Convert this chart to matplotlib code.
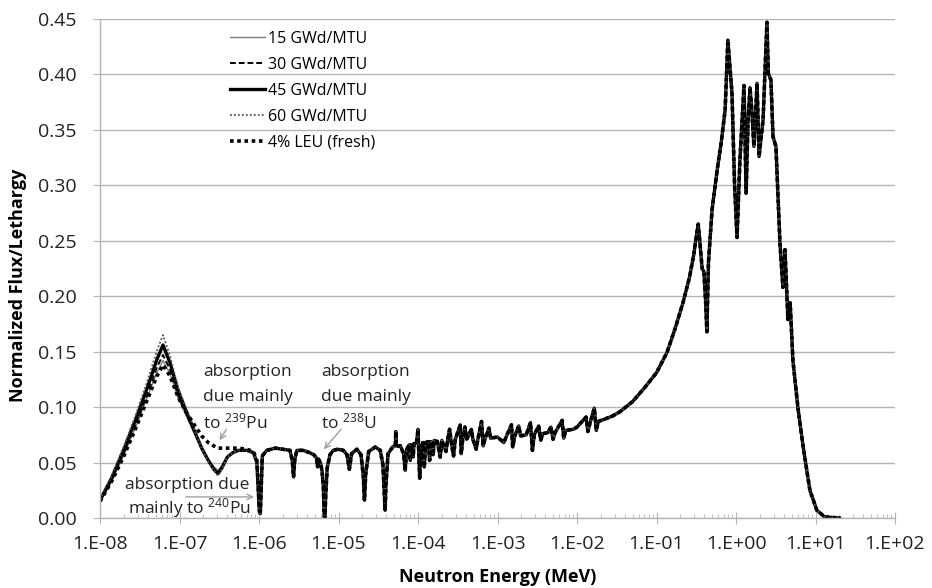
import math
import matplotlib
matplotlib.use('Agg')
from matplotlib import pyplot as plt
from matplotlib.ticker import FixedLocator, FuncFormatter, NullFormatter

# thermal region (differs between burnups), energy in MeV
E_th = [1.0e-8, 1.4e-8, 2.0e-8, 2.85e-8, 4.0e-8, 5.2e-8, 6.2e-8, 7.6e-8, 9.6e-8, 1.25e-7,
        1.57e-7, 1.9e-7, 2.3e-7, 2.7e-7, 3.05e-7, 3.4e-7, 4.0e-7, 4.7e-7, 5.5e-7, 7.0e-7,
        8.5e-7, 9.4e-7, 9.8e-7, 1.01e-6, 1.04e-6, 1.07e-6]
F_15 = [0.015, 0.033, 0.057, 0.083, 0.110, 0.131, 0.142, 0.130, 0.108, 0.090, 0.075, 0.063, 0.053,
        0.046, 0.043, 0.047, 0.055, 0.059, 0.061, 0.061, 0.059, 0.050, 0.026, 0.006, 0.005, 0.031]
F_30 = [0.015, 0.034, 0.059, 0.086, 0.113, 0.136, 0.147, 0.134, 0.111, 0.092, 0.076, 0.063, 0.052,
        0.045, 0.041, 0.046, 0.055, 0.059, 0.061, 0.061, 0.059, 0.050, 0.025, 0.005, 0.004, 0.030]
F_45 = [0.016, 0.036, 0.062, 0.090, 0.119, 0.143, 0.156, 0.140, 0.115, 0.094, 0.077, 0.063, 0.052,
        0.044, 0.040, 0.045, 0.055, 0.059, 0.061, 0.061, 0.059, 0.050, 0.025, 0.005, 0.004, 0.030]
F_60 = [0.017, 0.038, 0.065, 0.094, 0.125, 0.151, 0.165, 0.146, 0.118, 0.096, 0.078, 0.063, 0.051,
        0.043, 0.038, 0.044, 0.055, 0.059, 0.061, 0.061, 0.059, 0.050, 0.024, 0.004, 0.003, 0.030]
F_fresh = [0.015, 0.033, 0.056, 0.082, 0.108, 0.128, 0.138, 0.128, 0.109, 0.094, 0.083, 0.074, 0.068,
           0.065, 0.063, 0.063, 0.063, 0.063, 0.063, 0.062, 0.060, 0.052, 0.028, 0.008, 0.006, 0.032]

# epithermal + fast region (same for all cases)
E_ep = [1.10e-6, 1.25e-6, 1.6e-6, 2.0e-6, 2.45e-6, 2.62e-6, 2.72e-6, 2.82e-6, 3.0e-6, 3.6e-6,
        4.3e-6, 4.9e-6, 5.3e-6, 5.45e-6, 5.6e-6, 5.9e-6, 6.2e-6, 6.45e-6, 6.6e-6, 6.75e-6,
        6.9e-6, 7.2e-6, 7.8e-6, 8.6e-6, 9.8e-6, 1.15e-5, 1.28e-5, 1.37e-5, 1.46e-5, 1.7e-5,
        1.92e-5, 2.05e-5, 2.12e-5, 2.2e-5, 2.4e-5, 2.9e-5, 3.35e-5, 3.62e-5, 3.78e-5, 3.86e-5,
        3.95e-5, 4.2e-5, 4.8e-5, 5.2e-5, 5.25e-5, 5.3e-5, 6.0e-5, 6.6e-5, 6.9e-5, 7.2e-5,
        7.8e-5, 8.0e-5, 8.2e-5, 8.7e-5, 8.9e-5, 9.6e-5, 1.0e-4, 1.02e-4, 1.05e-4, 1.08e-4,
        1.15e-4, 1.2e-4, 1.25e-4, 1.35e-4, 1.4e-4, 1.45e-4, 1.55e-4, 1.6e-4, 1.75e-4, 1.9e-4,
        2.0e-4, 2.25e-4, 2.35e-4, 2.5e-4, 2.6e-4, 2.8e-4, 2.95e-4, 3.4e-4, 3.5e-4, 3.65e-4,
        3.9e-4, 4.1e-4, 4.7e-4, 4.9e-4, 5.4e-4, 5.7e-4, 6.3e-4, 6.6e-4, 7.0e-4, 7.8e-4,
        8.2e-4, 1.0e-3, 1.2e-3, 1.3e-3, 1.5e-3, 1.55e-3, 1.65e-3, 1.85e-3, 1.95e-3, 2.3e-3,
        2.6e-3, 2.75e-3, 2.9e-3, 3.3e-3, 3.5e-3, 3.7e-3, 4.3e-3, 4.7e-3, 5.0e-3, 5.3e-3,
        6.5e-3, 6.8e-3, 7.2e-3, 9.0e-3, 1.0e-2, 1.3e-2, 1.37e-2, 1.45e-2, 1.65e-2, 1.75e-2,
        1.85e-2, 2.2e-2, 2.8e-2, 3.5e-2, 5.0e-2, 7.0e-2, 0.10, 0.135, 0.17, 0.215,
        0.26, 0.295, 0.32, 0.335, 0.35, 0.375, 0.395, 0.415, 0.43, 0.45,
        0.50, 0.58, 0.65, 0.73, 0.79, 0.89, 0.96, 1.03, 1.12, 1.26,
        1.34, 1.42, 1.50, 1.58, 1.68, 1.84, 1.95, 2.19, 2.45, 2.55,
        2.75, 2.92, 3.18, 3.57, 3.89, 4.13, 4.5, 4.8, 5.2, 6.0,
        7.0, 8.5, 10.4, 13.0, 20.0]
F_ep = [0.056, 0.061, 0.063, 0.062, 0.061, 0.052, 0.037, 0.053, 0.061, 0.061,
        0.059, 0.057, 0.054, 0.046, 0.053, 0.050, 0.043, 0.028, 0.002, 0.000,
        0.020, 0.045, 0.057, 0.061, 0.062, 0.061, 0.057, 0.044, 0.058, 0.062,
        0.057, 0.038, 0.016, 0.040, 0.060, 0.064, 0.061, 0.048, 0.020, 0.007,
        0.030, 0.058, 0.064, 0.066, 0.078, 0.065, 0.065, 0.058, 0.043, 0.062,
        0.066, 0.052, 0.066, 0.055, 0.067, 0.068, 0.080, 0.060, 0.036, 0.062,
        0.068, 0.046, 0.068, 0.069, 0.052, 0.069, 0.057, 0.070, 0.069, 0.055,
        0.070, 0.060, 0.070, 0.080, 0.070, 0.056, 0.071, 0.084, 0.058, 0.071,
        0.082, 0.071, 0.080, 0.071, 0.062, 0.072, 0.087, 0.065, 0.072, 0.081,
        0.072, 0.073, 0.068, 0.074, 0.084, 0.064, 0.074, 0.083, 0.074, 0.075,
        0.086, 0.061, 0.075, 0.083, 0.070, 0.076, 0.077, 0.082, 0.071, 0.077,
        0.088, 0.072, 0.079, 0.080, 0.082, 0.091, 0.078, 0.085, 0.099, 0.079,
        0.087, 0.089, 0.092, 0.096, 0.105, 0.117, 0.131, 0.149, 0.170, 0.194,
        0.217, 0.238, 0.256, 0.265, 0.250, 0.225, 0.222, 0.195, 0.168, 0.230,
        0.278, 0.314, 0.338, 0.368, 0.431, 0.383, 0.300, 0.253, 0.323, 0.390,
        0.293, 0.360, 0.388, 0.368, 0.335, 0.392, 0.326, 0.359, 0.447, 0.401,
        0.395, 0.344, 0.335, 0.248, 0.208, 0.242, 0.179, 0.194, 0.142, 0.100,
        0.064, 0.025, 0.007, 0.001, 0.000]

labels = ['15 GWd/MTU', '30 GWd/MTU', '45 GWd/MTU', '60 GWd/MTU', '4% LEU (fresh)']
thermal = [F_15, F_30, F_45, F_60, F_fresh]

x_ticks = [1e-8, 1e-7, 1e-6, 1e-5, 1e-4, 1e-3, 1e-2, 1e-1, 1e0, 1e1, 1e2]
y_ticks = [0.0, 0.05, 0.10, 0.15, 0.20, 0.25, 0.30, 0.35, 0.40, 0.45]

plt.rcParams['font.family'] = ['Open Sans', 'DejaVu Sans']
plt.rcParams['mathtext.default'] = 'regular'

fig = plt.figure(figsize=(9.32, 5.88), dpi=100)
ax = fig.add_axes([100 / 932, 1 - 518 / 588, 795 / 932, 499 / 588])

styles = [dict(color='#7f7f7f', lw=1.0, ls='-'),
          dict(color='black', lw=1.4, ls=(0, (3, 1.5))),
          dict(color='black', lw=2.4, ls='-'),
          dict(color='#555555', lw=1.3, ls=(0, (1, 1.2))),
          dict(color='black', lw=2.6, ls=(0, (1, 1)))]

for lab, ft, st in zip(labels, thermal, styles):
    ax.plot(E_th + E_ep, ft + F_ep, label=lab, **st)

ax.set_xscale('log')
ax.set_xlim(1e-8, 1e2)
ax.set_ylim(0, 0.45)

grid_c = '#b4b4b4'
ax.set_yticks(y_ticks)
ax.yaxis.set_major_formatter(FuncFormatter(lambda v, p: f'{v:.2f}'))
ax.grid(axis='y', color=grid_c, lw=1.0)
ax.set_axisbelow(True)

minor = [m * t for t in x_ticks[:-1] for m in range(2, 10)]
ax.xaxis.set_major_locator(FixedLocator(x_ticks))
ax.xaxis.set_minor_locator(FixedLocator(minor))
ax.xaxis.set_major_formatter(FuncFormatter(lambda v, p: '1.E%+03d' % round(math.log10(v))))
ax.xaxis.set_minor_formatter(NullFormatter())

for s in ['top', 'right']:
    ax.spines[s].set_visible(False)
for s in ['left', 'bottom']:
    ax.spines[s].set_color(grid_c)
    ax.spines[s].set_linewidth(1.0)

ax.tick_params(axis='y', direction='out', length=5, color=grid_c, pad=12, labelsize=14, labelcolor='#222222')
ax.tick_params(axis='x', which='major', direction='inout', length=9, color=grid_c, pad=8,
               labelsize=14, labelcolor='#222222')
ax.tick_params(axis='x', which='minor', direction='in', length=3, color=grid_c)

ax.set_xlabel('Neutron Energy (MeV)', fontsize=13, fontweight='bold')
ax.set_ylabel('Normalized Flux/Lethargy', fontsize=13, fontweight='bold')
ax.xaxis.set_label_coords(0.5, -0.1)
ax.yaxis.set_label_coords(-0.092, 0.467)

leg = ax.legend(loc='upper left', bbox_to_anchor=(122 / 795, 1 - 4 / 499), frameon=False,
                fontsize=11.5, handlelength=2.2, handletextpad=0.15, labelspacing=0.62, borderpad=0)

ann = dict(fontsize=12.5, color='#222222', va='center', ha='left')
ax.text(1.98e-7, 0.1317, 'absorption', **ann)
ax.text(1.98e-7, 0.1091, 'due mainly', **ann)
ax.text(1.98e-7, 0.0866, 'to $^{239}$Pu', **ann)
ax.text(6.0e-6, 0.1317, 'absorption', **ann)
ax.text(6.0e-6, 0.1091, 'due mainly', **ann)
ax.text(6.0e-6, 0.0866, 'to $^{238}$U', **ann)
ax.text(2.06e-8, 0.0298, 'absorption due', **ann)
ax.text(2.25e-8, 0.0090, 'mainly to $^{240}$Pu', **ann)

arr = dict(arrowstyle='->', color='#a0a0a0', lw=1.0)
ax.annotate('', xy=(3.05e-7, 0.068), xytext=(4.07e-7, 0.082), arrowprops=arr)
ax.annotate('', xy=(6.2e-6, 0.060), xytext=(1.14e-5, 0.082), arrowprops=arr)
ax.annotate('', xy=(9.4e-7, 0.019), xytext=(1.11e-7, 0.019), arrowprops=arr)

plt.savefig('out.png', dpi=100)
